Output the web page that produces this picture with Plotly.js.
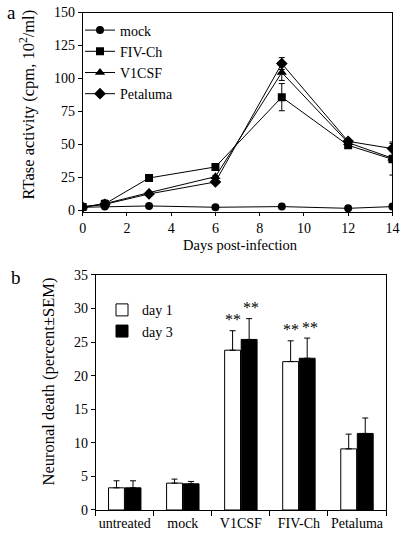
<!DOCTYPE html>
<html>
<head>
<meta charset="utf-8">
<script src="https://cdn.plot.ly/plotly-3.0.1.min.js"></script>
<style>html,body{margin:0;padding:0;background:#fff;}#chart{width:400px;height:537px;}</style>
</head>
<body>
<div id="chart"></div>
<script>
// Panel a: RTase activity
var days = [0, 1, 3, 6, 9, 12, 14];
var mockRT = [2.3, 2.8, 3.3, 2.3, 2.8, 1.5, 2.8];
var mockRTErr = [0, 0, 0, 0, 0, 0, 0];
var fivchRT = [2.5, 4.8, 24.5, 32.9, 85.8, 49.3, 38.7];
var fivchRTErr = [0.5, 3.0, 1.0, 1.0, 10.3, 1.5, 12];
var v1csfRT = [2.5, 5.0, 13.4, 25.5, 104.5, 51.3, 39.5];
var v1csfRTErr = [0.5, 1.0, 1.0, 1.0, 6.0, 1.5, 2.0];
var petalumaRT = [2.5, 4.5, 12.4, 21.5, 111.3, 52.3, 46.8];
var petalumaRTErr = [0.5, 1.0, 1.0, 1.0, 4.5, 1.5, 5.0];

// Panel b: neuronal death
var groups = ['untreated', 'mock', 'V1CSF', 'FIV-Ch', 'Petaluma'];
var day1 = [3.3, 4.0, 23.8, 22.1, 9.1];
var day1Err = [1.05, 0.6, 2.9, 3.1, 2.2];
var day3 = [3.3, 3.9, 25.4, 22.6, 11.4];
var day3Err = [1.05, 0.35, 3.1, 3.0, 2.3];
var day1Sig = ['', '', '**', '**', ''];
var day3Sig = ['', '', '**', '**', ''];

var FONT = 'Liberation Serif, Times New Roman, serif';
var BARGAP = 0.43;

function lineTrace(name, y, err, symbol, size) {
  return {
    x: days, y: y, name: name, type: 'scatter', mode: 'lines+markers',
    xaxis: 'x', yaxis: 'y', legend: 'legend',
    line: {color: '#000', width: 1},
    marker: {symbol: symbol, size: size, color: '#000'},
    error_y: {type: 'data', array: err, visible: true, color: '#000', thickness: 1, width: 3}
  };
}

var zeros = groups.map(function(){return 0;});
var traces = [
  lineTrace('mock', mockRT, mockRTErr, 'circle', 8),
  lineTrace('FIV-Ch', fivchRT, fivchRTErr, 'square', 8),
  lineTrace('V1CSF', v1csfRT, v1csfRTErr, 'triangle-up', 9),
  lineTrace('Petaluma', petalumaRT, petalumaRTErr, 'diamond', 9),
  {
    x: groups, y: day1, name: 'day 1', type: 'bar', xaxis: 'x2', yaxis: 'y2', legend: 'legend2',
    marker: {color: '#fff', line: {color: '#000', width: 1}},
    error_y: {type: 'data', array: day1Err, arrayminus: zeros, visible: true, color: '#000', thickness: 1, width: 3}
  },
  {
    x: groups, y: day3, name: 'day 3', type: 'bar', xaxis: 'x2', yaxis: 'y2', legend: 'legend2',
    marker: {color: '#000', line: {color: '#000', width: 1}},
    error_y: {type: 'data', array: day3Err, arrayminus: zeros, visible: true, color: '#000', thickness: 1, width: 3}
  }
];

function txt(text, x, y, size, extra) {
  return Object.assign({text: text, xref: 'paper', yref: 'paper', x: x, y: y, showarrow: false,
    font: {family: FONT, size: size, color: '#000'}}, extra || {});
}

var annotations = [
  txt('a', 0.012, 1.0, 19, {xanchor: 'left', yanchor: 'top'}),
  txt('b', 0.022, 0.506, 19, {xanchor: 'left', yanchor: 'top'}),
  txt('RTase activity (cpm, 10<sup>2</sup>/ml)', 0.07, 0.8054, 16.5, {xanchor: 'center', yanchor: 'middle', textangle: -90}),
  txt('Days post-infection', 0.6, 0.543, 14.5, {xanchor: 'center', yanchor: 'middle', borderpad: 0}),
  txt('Neuronal death (percent±SEM)', 0.12, 0.2896, 16.5, {xanchor: 'center', yanchor: 'middle', textangle: -90})
];
var off = (1 - BARGAP) / 4;
groups.forEach(function(g, i) {
  if (day1Sig[i]) annotations.push({text: day1Sig[i], xref: 'x2', yref: 'y2', x: i - off, y: day1[i] + day1Err[i], yanchor: 'middle', yshift: 11, showarrow: false, font: {family: FONT, size: 16, color: '#000'}});
  if (day3Sig[i]) annotations.push({text: day3Sig[i], xref: 'x2', yref: 'y2', x: i + off + 0.04, y: day3[i] + day3Err[i], yanchor: 'middle', yshift: 11, showarrow: false, font: {family: FONT, size: 16, color: '#000'}});
});

var axBase = {showgrid: false, zeroline: false, showline: true, linecolor: '#000', linewidth: 1, mirror: true,
  ticks: 'outside', ticklen: 4, tickwidth: 1, tickcolor: '#000', tickfont: {family: FONT, size: 14, color: '#000'}};
function ax(o) { return Object.assign({}, axBase, o); }

var layout = {
  width: 400, height: 537,
  margin: {l: 0, r: 0, t: 0, b: 0},
  paper_bgcolor: '#fff', plot_bgcolor: '#fff',
  font: {family: FONT, size: 14, color: '#000'},
  showlegend: true,
  barmode: 'group', bargap: BARGAP, bargroupgap: 0.04,
  xaxis: ax({domain: [0.2067, 0.981], anchor: 'y', range: [0, 14], dtick: 2, tick0: 0, ticklen: 3}),
  yaxis: ax({domain: [0.6047, 0.9767], anchor: 'x', range: [-1.5, 150], dtick: 25, tick0: 0}),
  yaxis3: {overlaying: 'y', side: 'right', anchor: 'x', range: [-1.5, 150], dtick: 25, tick0: 0,
    showgrid: false, zeroline: false, showline: false, showticklabels: false,
    ticks: 'inside', ticklen: 4, tickwidth: 1, tickcolor: '#000'},
  xaxis2: ax({domain: [0.2393, 0.965], anchor: 'y2', type: 'category', tickson: 'boundaries', ticklen: 5,
    tickangle: 0, range: [-0.5, 4.5]}),
  yaxis2: ax({domain: [0.0503, 0.4879], anchor: 'x2', range: [0, 35], dtick: 5, tick0: 0}),
  legend: {x: 0.2, y: 0.973, xanchor: 'left', yanchor: 'top', bgcolor: 'rgba(0,0,0,0)', borderwidth: 0,
    font: {family: FONT, size: 14, color: '#000'}, tracegroupgap: 0},
  legend2: {x: 0.255, y: 0.452, xanchor: 'left', yanchor: 'top', bgcolor: 'rgba(0,0,0,0)', borderwidth: 0,
    font: {family: FONT, size: 14, color: '#000'}, traceorder: 'normal'},
  annotations: annotations
};

Plotly.newPlot('chart', traces, layout, {displayModeBar: false, staticPlot: true});
</script>
</body>
</html>
